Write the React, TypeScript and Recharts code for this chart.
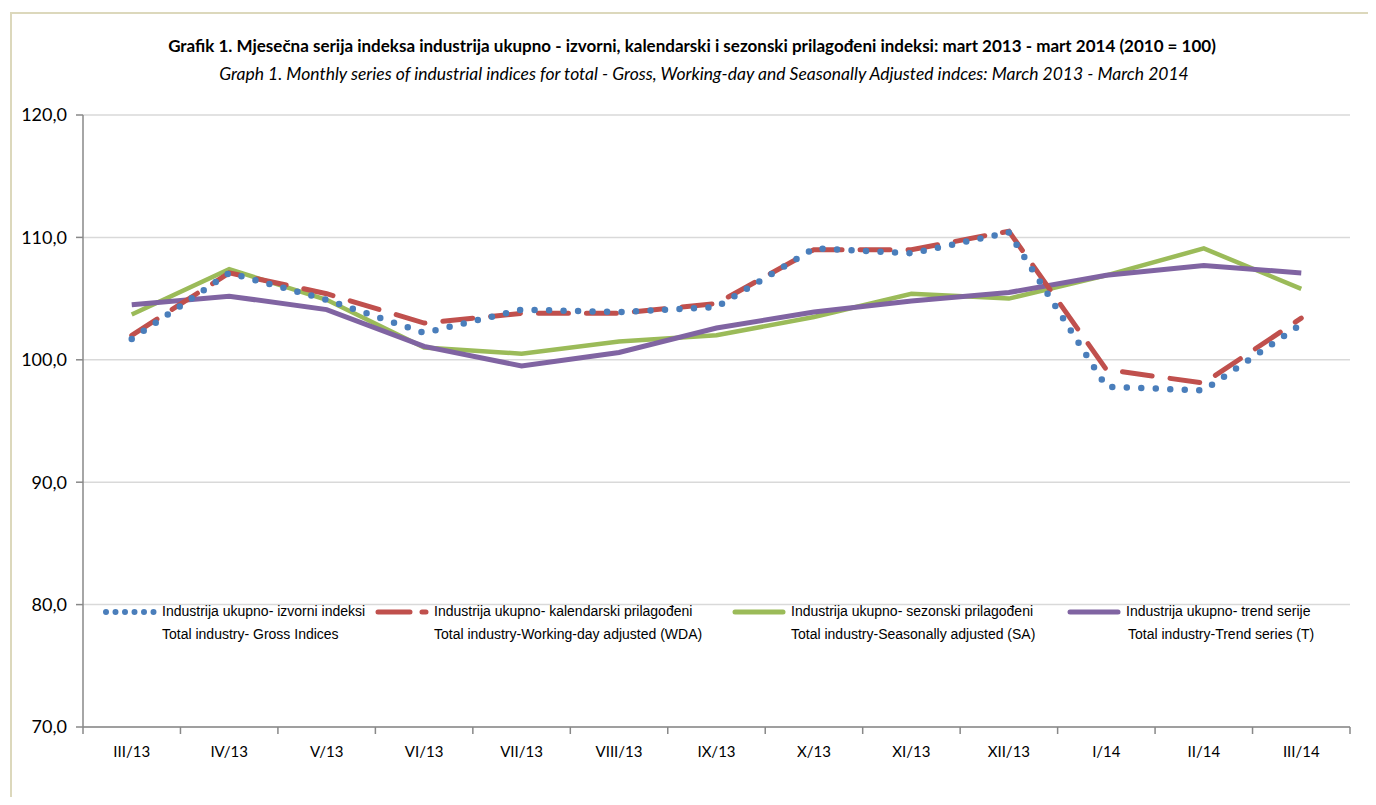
import React from 'react';
import { LineChart, Line, XAxis, YAxis, CartesianGrid } from 'recharts';

const months = ['III/13', 'IV/13', 'V/13', 'VI/13', 'VII/13', 'VIII/13', 'IX/13', 'X/13', 'XI/13', 'XII/13', 'I/14', 'II/14', 'III/14'];
const gross = [101.7, 107.1, 104.9, 102.2, 104.1, 103.9, 104.3, 109.1, 108.7, 110.4, 97.8, 97.5, 102.9];
const wda = [102.0, 107.1, 105.4, 103.0, 103.8, 103.8, 104.6, 109.0, 109.0, 110.5, 99.2, 98.1, 103.4];
const sa = [103.7, 107.4, 104.9, 101.0, 100.5, 101.5, 102.0, 103.5, 105.4, 105.0, 106.9, 109.1, 105.8];
const trend = [104.5, 105.2, 104.1, 101.1, 99.5, 100.6, 102.6, 103.9, 104.8, 105.5, 106.9, 107.7, 107.1];
const yTicks = [70, 80, 90, 100, 110, 120];

const data = months.map((m, i) => ({
  x: i + 0.5,
  month: m,
  gross: gross[i],
  wda: wda[i],
  sa: sa[i],
  trend: trend[i],
}));

// tick marks sit between the months, labels sit in the middle of each month
const boundaryTicks = months.map((_, i) => i).concat([months.length]);

const BLUE = '#4a7ebb';
const RED = '#c0504d';
const GREEN = '#9bbb59';
const PURPLE = '#8064a2';

const legendFont = '"Liberation Sans", Arial, sans-serif';

// half a month in pixels, used to shift the label off the boundary tick
const PLOT_W = 1360 - 75 - 18;
const HALF = PLOT_W / months.length / 2;

function MonthTick(props: any) {
  const { x, y, payload } = props;
  const label = months[payload.value];
  if (!label) return null;
  return (
    <text x={x + HALF} y={y + 10} dy="0.71em" textAnchor="middle" fill="#000" fontSize={15} fontFamily="Lato, sans-serif">
      {label}
    </text>
  );
}

function LegendItem({ left, icon, line1, line2, indent = 0 }: { left: number; icon: React.ReactNode; line1: string; line2: string; indent?: number }) {
  return (
    <div style={{ position: 'absolute', left, top: 592, fontFamily: legendFont, fontSize: 14, color: '#000', lineHeight: '23px', whiteSpace: 'nowrap' }}>
      <div style={{ display: 'flex', alignItems: 'center' }}>
        {icon}
        <span style={{ marginLeft: 4 }}>{line1}</span>
      </div>
      <div style={{ marginLeft: 60 + indent }}>{line2}</div>
    </div>
  );
}

function Icon({ color, width, dash, cap }: { color: string; width: number; dash?: string; cap?: 'round' | 'butt' }) {
  return (
    <svg width={56} height={12} style={{ display: 'block' }}>
      <line x1={4} y1={6} x2={52} y2={6} stroke={color} strokeWidth={width} strokeDasharray={dash} strokeLinecap={cap || 'butt'} />
    </svg>
  );
}

export default function App() {
  return (
    <div style={{ position: 'relative', width: 1360, height: 789 }}>
      <div style={{ position: 'absolute', left: 2, top: 4, width: 1366, height: 785, boxSizing: 'border-box', borderTop: '2px solid #dcd8bc', borderLeft: '2px solid #dcd8bc' }} />
      <div style={{ position: 'absolute', left: 0, top: 27, width: 1368, textAlign: 'center', fontFamily: 'Lato, sans-serif', fontWeight: 700, fontSize: 17, color: '#000' }}>
        Grafik 1. Mjesečna serija indeksa industrija ukupno - izvorni, kalendarski i sezonski prilagođeni indeksi: mart 2013 - mart 2014 (2010 = 100)
      </div>
      <div style={{ position: 'absolute', left: 0, top: 55, width: 1392, textAlign: 'center', fontFamily: 'Lato, sans-serif', fontStyle: 'italic', fontSize: 17.5, color: '#000' }}>
        Graph 1. Monthly series of industrial indices for total - Gross, Working-day and Seasonally Adjusted indces: March 2013 - March 2014
      </div>
      <div style={{ position: 'absolute', left: 0, top: 0 }}>
        <LineChart width={1360} height={789} data={data} margin={{ top: 107, right: 18, left: 0, bottom: 32 }}>
          <CartesianGrid vertical={false} stroke="#d9d9d9" strokeWidth={1.5} />
          <XAxis type="number" dataKey="x" domain={[0, months.length]} ticks={boundaryTicks} interval={0} height={38} tickSize={7}
            stroke="#888" strokeWidth={1.5} tick={<MonthTick />} />
          <YAxis type="number" domain={[70, 120]} ticks={yTicks} interval={0} width={75} tickSize={7} tickMargin={9} stroke="#888" strokeWidth={1.5}
            tickFormatter={(v: number) => v.toFixed(1).replace('.', ',')}
            tick={{ fill: '#000', fontSize: 18, fontFamily: 'Lato, sans-serif' }} />
          <Line dataKey="sa" stroke={GREEN} strokeWidth={4.5} dot={false} isAnimationActive={false} />
          <Line dataKey="trend" stroke={PURPLE} strokeWidth={5} dot={false} isAnimationActive={false} />
          <Line dataKey="wda" stroke={RED} strokeWidth={5} strokeDasharray="30 18" strokeLinecap="round" dot={false} isAnimationActive={false} />
          <Line dataKey="gross" stroke={BLUE} strokeWidth={6.5} strokeDasharray="0 14.5" strokeLinecap="round" dot={false} isAnimationActive={false} />
        </LineChart>
      </div>
      <LegendItem left={94} icon={<Icon color={BLUE} width={6} dash="0 9.5" cap="round" />} line1="Industrija ukupno- izvorni indeksi" line2="Total industry- Gross Indices" />
      <LegendItem left={366} icon={<Icon color={RED} width={5} dash="32 12" cap="round" />} line1="Industrija ukupno- kalendarski prilagođeni" line2="Total industry-Working-day adjusted (WDA)" />
      <LegendItem left={723} icon={<Icon color={GREEN} width={5} cap="round" />} line1="Industrija ukupno- sezonski prilagođeni" line2="Total industry-Seasonally adjusted (SA)" />
      <LegendItem left={1058} icon={<Icon color={PURPLE} width={5} cap="round" />} line1="Industrija ukupno- trend serije" line2="Total industry-Trend series (T)" indent={2} />
    </div>
  );
}
